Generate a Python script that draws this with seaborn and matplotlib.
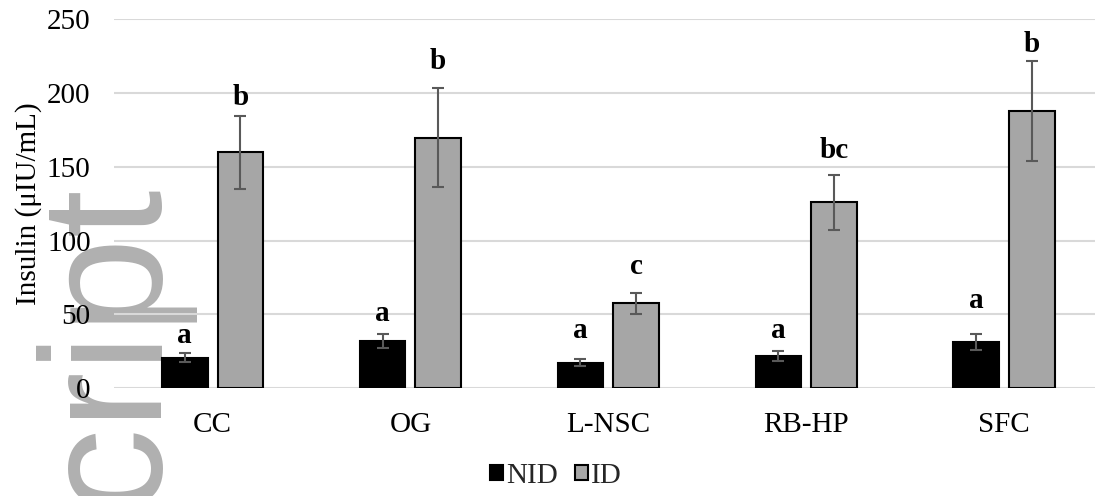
import matplotlib
matplotlib.use("Agg")
import matplotlib.pyplot as plt
import seaborn as sns
import pandas as pd

categories = ["CC", "OG", "L-NSC", "RB-HP", "SFC"]
groups = ["NID", "ID"]
nid_mean = [20.7, 32.0, 17.3, 21.9, 31.3]
id_mean = [159.8, 169.7, 57.5, 125.9, 187.7]
nid_err = [3.2, 4.7, 2.3, 3.4, 5.7]
id_err = [24.8, 33.5, 7.1, 18.6, 33.9]
nid_letters = ["a", "a", "a", "a", "a"]
id_letters = ["b", "b", "c", "bc", "b"]
nid_letter_y = [30.7, 45.8, 34.1, 34.1, 54.4]
id_letter_y = [191.8, 216.0, 77.4, 155.7, 227.9]
yticks = [0, 50, 100, 150, 200, 250]
ylabel = "Insulin (μIU/mL)"
watermark = "cript"

df = pd.DataFrame({
    "Category": categories * 2,
    "Group": ["NID"] * len(categories) + ["ID"] * len(categories),
    "Insulin": nid_mean + id_mean,
})

sns.set_theme(style="white")
plt.rcParams["font.family"] = ["Liberation Serif", "DejaVu Serif"]

W, H = 1095, 496
fig = plt.figure(figsize=(W / 100, H / 100), dpi=100)
fig.patch.set_facecolor("white")
left_px, right_px, top_px, bot_px = 113.6, 1103.0, 19.0, 388.3
ax = fig.add_axes([left_px / W, 1 - bot_px / H, (right_px - left_px) / W, (bot_px - top_px) / H])
ax.patch.set_alpha(0)

fig.text(155 / W, 1 - 507 / H, watermark, rotation=90, rotation_mode="anchor",
         ha="left", va="baseline", fontsize=124, family="Liberation Sans",
         color="#b0b0b0", zorder=-1)

sns.barplot(data=df, x="Category", y="Insulin", hue="Group", order=categories,
            hue_order=groups, palette={"NID": "black", "ID": "#a6a6a6"},
            width=0.562, gap=0.18, errorbar=None, edgecolor="black",
            linewidth=1.5, ax=ax, zorder=2)

means = [nid_mean, id_mean]
errs = [nid_err, id_err]
letters = [nid_letters, id_letters]
letter_y = [nid_letter_y, id_letter_y]
for cont, m, e, lt, ly in zip(ax.containers, means, errs, letters, letter_y):
    xs = [p.get_x() + p.get_width() / 2 for p in cont]
    ax.errorbar(xs, m, yerr=e, fmt="none", ecolor="#595959", elinewidth=1.5,
                capsize=4.5, capthick=1.5, zorder=3)
    for x, t, y in zip(xs, lt, ly):
        ax.text(x, y, t, ha="center", va="baseline", fontsize=21,
                fontweight="bold", color="black", zorder=4)

ax.set_ylim(0, 250)
ax.set_yticks(yticks)
ax.set_xlim(-0.5, len(categories) - 0.5)
ax.yaxis.grid(True, color="#d9d9d9", linewidth=1.5)
ax.xaxis.grid(False)
ax.set_axisbelow(True)
for s in ax.spines.values():
    s.set_visible(False)
ax.tick_params(axis="x", length=0, pad=17, labelsize=21, colors="black")
ax.tick_params(axis="y", length=0, pad=16.5, labelsize=21, colors="black")
ax.set_xlabel("")
ax.set_ylabel(ylabel, fontsize=21, color="black")
ax.yaxis.set_label_coords((42 - left_px) / (right_px - left_px), 0.5)

sns.move_legend(ax, "center", bbox_to_anchor=(556 / W, 1 - 476 / H),
                bbox_transform=fig.transFigure, ncol=2, frameon=False,
                title=None, fontsize=21, handlelength=0.45, handleheight=0.45,
                handletextpad=0.1, columnspacing=0.6, borderaxespad=0)

fig.savefig("out.png", dpi=100)
